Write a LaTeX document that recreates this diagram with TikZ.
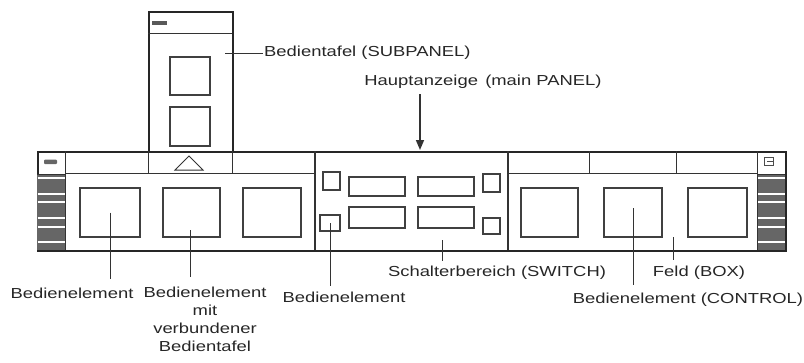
\documentclass[tikz,border=0pt]{standalone}
\usepackage{fontspec}
\setmainfont[FakeStretch=1.27]{Liberation Sans}
\usetikzlibrary{arrows.meta}
\begin{document}
\begin{tikzpicture}[x=1pt,y=-1pt,
  outline/.style={draw=black!85, line width=2pt},
  thin/.style={draw=black!80, line width=1pt},
  elem/.style={draw=black!75, line width=1.2pt, minimum width=#1, inner sep=0pt},
  leader/.style={draw=black!80, line width=1pt},
  lbl/.style={text=black!85, font=\fontsize{14.5}{18}\selectfont, inner sep=1pt},
  stripe/.style={draw=white, line width=1.4pt},
  grip/.style={fill=black!60}]
\path[use as bounding box] (0,0) rectangle (804,362);

% ---------- subpanel ----------
\node[draw=black!85, line width=1.5pt, minimum width=84pt, minimum height=140pt, anchor=north west, inner sep=0pt] (sub) at (148,11) {};
\draw[thin] (148,33) -- (232,33);
\fill[black!65] (152,21) rectangle (167,24.5);
\node[elem=40pt, minimum height=38pt] (sb1) at (190,76) {};
\node[elem=40pt, minimum height=39pt] (sb2) at (190,126.5) {};

% ---------- main panel frame ----------
\node[outline, minimum width=748pt, minimum height=99pt, anchor=north west, inner sep=0pt] (main) at (37,151) {};

% handles
\fill[grip] (37,174) rectangle (65,250);
\fill[grip] (757,174) rectangle (785,250);
\foreach \yy in {178,194,202,218,227,242}{
  \draw[stripe] (37.5,\yy) -- (64.5,\yy);
  \draw[stripe] (757.5,\yy) -- (784.5,\yy);
}
\draw[thin] (65,151) -- (65,250);
\draw[thin] (757,151) -- (757,250);
\draw[thin] (37,174) -- (65,174);
\draw[thin] (757,174) -- (785,174);
\fill[black!60, rounded corners=1pt] (44,159.5) rectangle (57,164);
\draw[black!70, line width=1pt] (764,157) rectangle (773,165);
\draw[black!70, line width=1pt] (767,161) -- (773,161);

% left section top bar
\draw[thin] (65,173) -- (315,173);
\draw[thin] (148,151) -- (148,173);
\draw[thin] (232,151) -- (232,173);
\draw[thin, fill=white] (175,170) -- (203,170) -- (189,156) -- cycle;

% right section top bar
\draw[thin] (508,173) -- (757,173);
\draw[thin] (589,151) -- (589,173);
\draw[thin] (676,151) -- (676,173);

% switch area borders
\draw[draw=black!80, line width=1.8pt] (315,151) -- (315,250);
\draw[draw=black!80, line width=1.8pt] (508,151) -- (508,250);

% ---------- boxes ----------
\node[elem=60pt, minimum height=49pt] (lb1) at (110,212.5) {};
\node[elem=57pt, minimum height=49pt] (lb2) at (191.5,212.5) {};
\node[elem=58pt, minimum height=49pt] (lb3) at (272,212.5) {};
\node[elem=57pt, minimum height=49pt] (rb1) at (549.5,212.5) {};
\node[elem=58pt, minimum height=49pt] (rb2) at (633,212.5) {};
\node[elem=59pt, minimum height=49pt] (rb3) at (717.5,212.5) {};

% switch contents
\node[elem=17pt, minimum height=18pt] (sq1) at (331.5,181) {};
\node[elem=20pt, minimum height=16pt] (sq2) at (330,223) {};
\node[elem=17pt, minimum height=18pt] (sq3) at (491.5,183) {};
\node[elem=17pt, minimum height=16pt] (sq4) at (491.5,226) {};
\node[elem=56pt, minimum height=19pt] (r1) at (377,186.5) {};
\node[elem=56pt, minimum height=19pt] (r2) at (446,186.5) {};
\node[elem=56pt, minimum height=21pt] (r3) at (377,217.5) {};
\node[elem=56pt, minimum height=21pt] (r4) at (446,217.5) {};

% ---------- labels ----------
\node[lbl] (tSub) at (263,53) [anchor=west] {Bedientafel (SUBPANEL)};
\node[lbl] (tMain) at (483,82) {Hauptanzeige\hspace{0.5em}(main PANEL)};
\node[lbl] (t1) at (72,293) {Bedienelement};
\node[lbl, align=center, anchor=north] (t2) at (205,286) {Bedienelement\\mit\\verbundener\\Bedientafel};
\node[lbl] (t3) at (344,297) {Bedienelement};
\node[lbl] (t4) at (497,273) {Schalterbereich (SWITCH)};
\node[lbl] (t5) at (699,273) {Feld (BOX)};
\node[lbl] (t6) at (688,300) {Bedienelement (CONTROL)};

% ---------- leaders ----------
\coordinate (s0) at (225,53);
\coordinate (a0) at (420,94);
\coordinate (a1) at (420,150);
\coordinate (e1) at (110,279);
\coordinate (e2) at (190,277);
\coordinate (p2) at (190,230);
\coordinate (e3) at (330,286);
\coordinate (p4) at (442,240);
\coordinate (e4) at (442,261);
\coordinate (p5) at (673,237);
\coordinate (e5) at (673,260);
\coordinate (e6) at (633,285);
\coordinate (p6) at (633,208);

\draw[leader] (s0) -- (tSub.west);
\draw[leader, line width=1.6pt, -{Triangle[length=10pt,width=8pt]}] (a0) -- (a1);
\draw[leader] (lb1.center) -- (e1);
\draw[leader] (p2) -- (e2);
\draw[leader] (sq2.center) -- (e3);
\draw[leader] (p4) -- (e4);
\draw[leader] (p5) -- (e5);
\draw[leader] (p6) -- (e6);
\end{tikzpicture}
\end{document}
